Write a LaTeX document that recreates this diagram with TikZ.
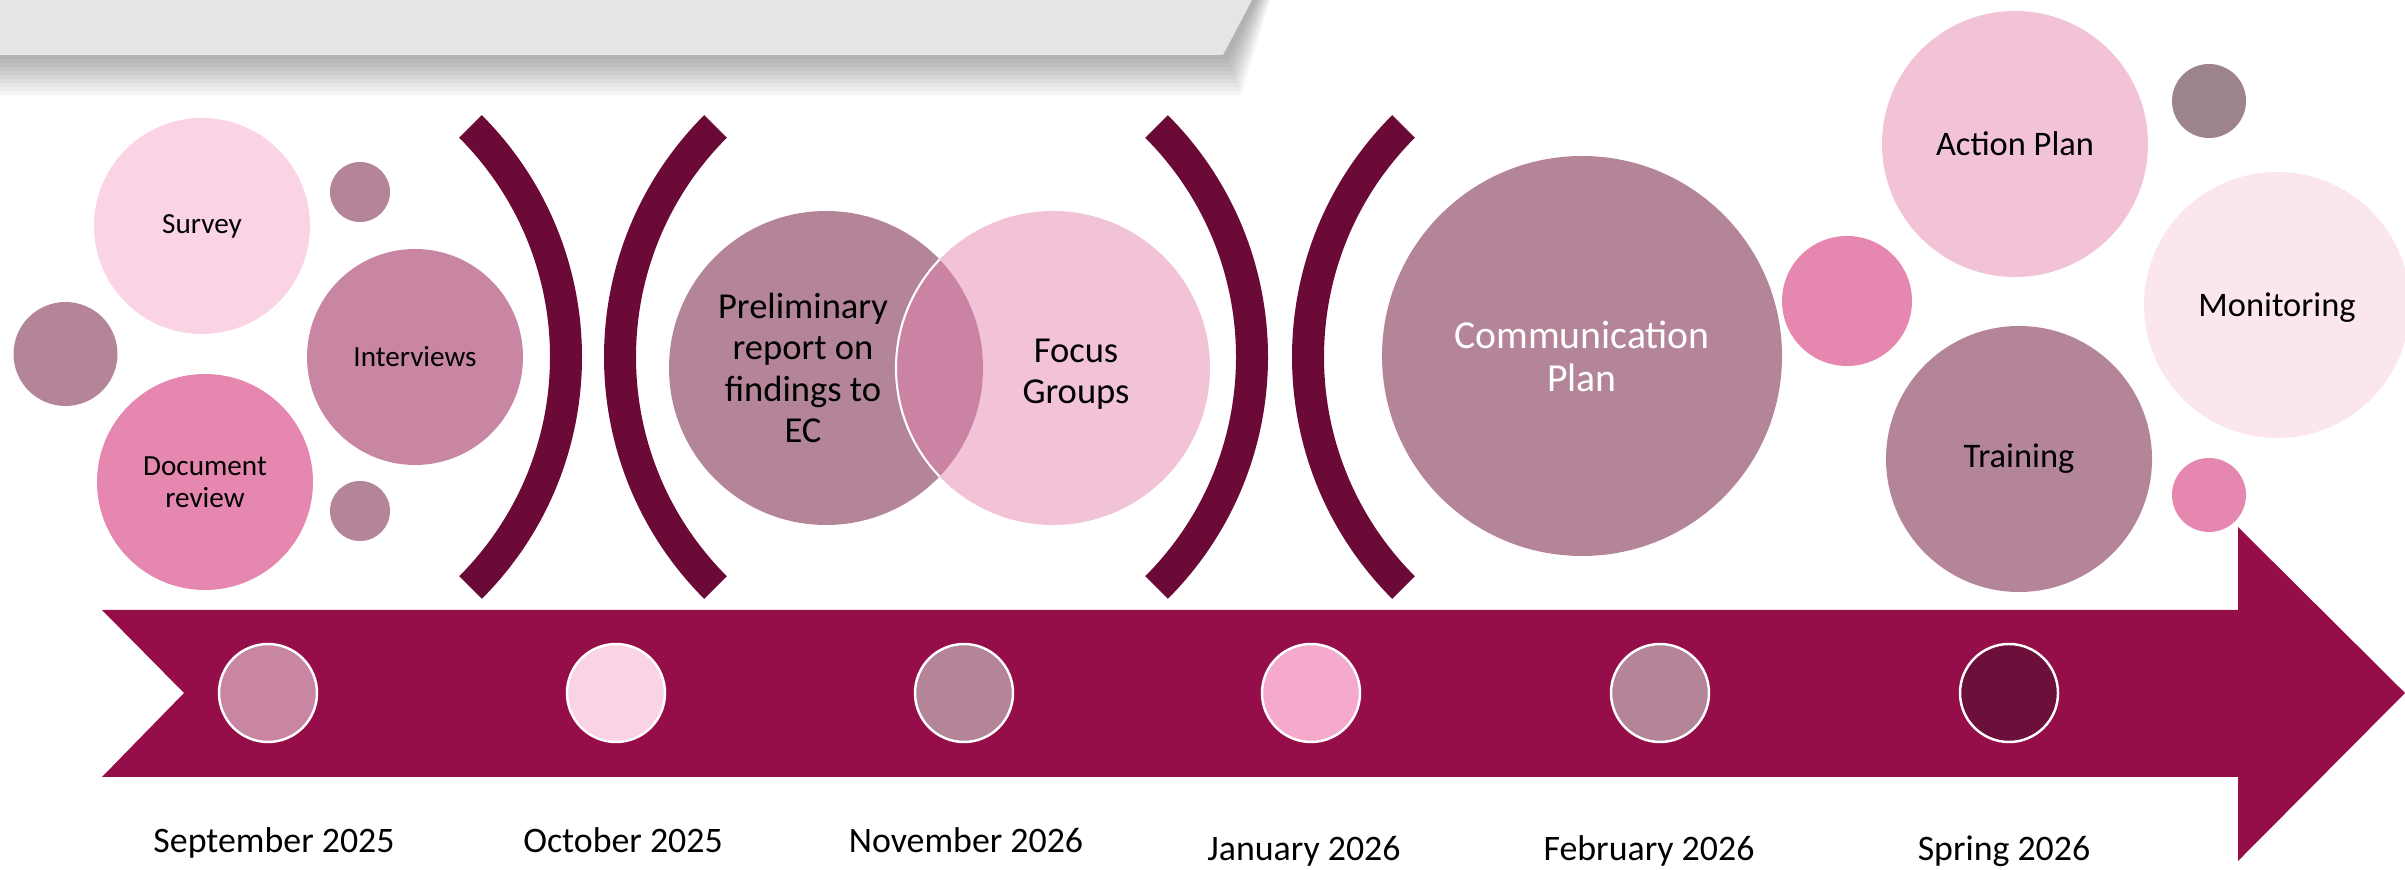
\documentclass[tikz,border=0pt]{standalone}
\usepackage{fontspec}
\setmainfont{Carlito}
\usepackage{tikz}

\begin{document}
\begin{tikzpicture}[
        bubble/.style = {circle, inner sep=0pt, align=center},
        dot/.style = {circle, inner sep=0pt, minimum size=0.98cm, draw=white, line width=0.7pt},
        month/.style = {anchor=base, font=\fontsize{10.2}{12}\selectfont}
    ]
        \useasboundingbox (0,0) rectangle (24.05,8.69);
        \definecolor{lightpink}{HTML}{FAD3E4}
        \definecolor{mauve}{HTML}{B48598}
        \definecolor{rose}{HTML}{C986A3}
        \definecolor{hotpink}{HTML}{E687B0}
        \definecolor{softpink}{HTML}{F2C2D7}
        \definecolor{palepink}{HTML}{FBE6EF}
        \definecolor{overlap}{HTML}{CB83A3}
        \definecolor{greymauve}{HTML}{9C838C}
        \definecolor{maroon}{HTML}{6B0A36}
        \definecolor{wine}{HTML}{950E4A}
        \definecolor{candy}{HTML}{F5AACB}
        \definecolor{plum}{HTML}{6C0F3A}
        % grey banner with soft shadow
        \foreach \i in {1,...,10}
            \fill[black, opacity=0.035] (0,8.69) -- (12.55+0.015*\i,8.69) -- (12.26+0.015*\i,8.14-0.04*\i) -- (0,8.14-0.04*\i) -- cycle;
        \fill[black!10] (0,8.69) -- (12.52,8.69) -- (12.23,8.14) -- (0,8.14) -- cycle;
        % first group of bubbles
        \fill[mauve] (0.655,5.15) circle (0.52);
        \fill[mauve] (3.60,6.77) circle (0.30);
        \fill[mauve] (3.60,3.58) circle (0.30);
        \node[bubble, fill=lightpink, minimum size=2.16cm, font=\fontsize{8.3}{9.2}\selectfont] (survey) at (2.02,6.43) {Survey};
        \node[bubble, fill=rose, minimum size=2.16cm, font=\fontsize{8.3}{9.2}\selectfont] (interviews) at (4.15,5.12) {Interviews};
        \node[bubble, fill=hotpink, minimum size=2.16cm, font=\fontsize{8.3}{9.2}\selectfont] (docreview) at (2.05,3.87) {Document\\review};
        % brackets
        \foreach \cx/\a in {2.40/0, 9.46/180, 9.26/0, 16.34/180}
            \fill[maroon, shift={(\cx,5.12)}, rotate=\a] (45:3.42) arc[start angle=45, end angle=-45, radius=3.42]
                -- (-45:3.10) arc[start angle=-45, end angle=45, radius=3.10] -- cycle;
        % venn pair
        \node[bubble, fill=mauve, minimum size=3.14cm] (prelim) at (8.26,5.01) {};
        \node[bubble, fill=softpink, minimum size=3.14cm] (focus) at (10.53,5.01) {};
        \begin{scope}
            \clip (8.26,5.01) circle (1.57);
            \fill[overlap] (10.53,5.01) circle (1.57);
            \draw[white, line width=0.6pt] (10.53,5.01) circle (1.57);
        \end{scope}
        \node[align=center, font=\fontsize{10.4}{11.7}\selectfont] (prelimtext) at ([xshift=-0.23cm]prelim.center) {Preliminary\\report on\\findings to\\EC};
        \node[align=center, font=\fontsize{10.4}{11.7}\selectfont] (focustext) at ([xshift=0.23cm, yshift=-0.06cm]focus.center) {Focus\\Groups};
        % last group of bubbles
        \node[bubble, fill=mauve, minimum size=4.0cm, text=white, font=\fontsize{11.3}{12.2}\selectfont] (commplan) at (15.82,5.13) {Communication\\Plan};
        \fill[hotpink] (18.47,5.68) circle (0.65);
        \fill[greymauve] (22.09,7.68) circle (0.37);
        \fill[hotpink] (22.09,3.74) circle (0.37);
        \node[bubble, fill=softpink, minimum size=2.66cm, font=\fontsize{9.8}{11}\selectfont] (actionplan) at (20.15,7.25) {Action Plan};
        \node[bubble, fill=palepink, minimum size=2.66cm, font=\fontsize{9.8}{11}\selectfont] (monitoring) at (22.77,5.64) {};
        \node[font=\fontsize{9.8}{11}\selectfont] (monitortext) at ([yshift=-0.03cm]monitoring.center) {Monitoring};
        \node[bubble, fill=mauve, minimum size=2.66cm, font=\fontsize{9.8}{11}\selectfont] (training) at (20.19,4.10) {Training};
        % timeline arrow
        \fill[wine] (1.02,2.59) -- (22.38,2.59) -- (22.38,3.42) -- (24.05,1.76) -- (22.38,0.08) -- (22.38,0.92) -- (1.02,0.92) -- (1.84,1.76) -- cycle;
        \foreach \x/\c [count=\i] in {2.68/rose, 6.16/lightpink, 9.64/mauve, 13.11/candy, 16.60/mauve, 20.09/plum}
            \node[dot, fill=\c] (dot\i) at (\x,1.76) {};
        \foreach \x/\y/\t [count=\i] in {2.74/0.16/September 2025, 6.23/0.16/October 2025, 9.66/0.16/November 2026, 13.04/0.09/January 2026, 16.49/0.09/February 2026, 20.04/0.09/Spring 2026}
            \node[month] (month\i) at (\x,\y) {\t};
    \end{tikzpicture}
\end{document}
